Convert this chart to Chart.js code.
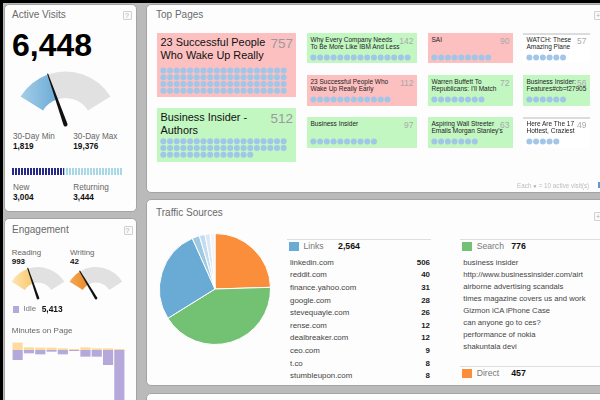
<!DOCTYPE html>
<html>
<head>
<meta charset="utf-8">
<script src="https://cdn.jsdelivr.net/npm/chart.js@4.4.0/dist/chart.umd.min.js"></script>
<style>
html, body { margin: 0; padding: 0; }
body { width: 600px; height: 400px; overflow: hidden; position: relative; background: #bababa; font-family: Arial, "Liberation Sans", sans-serif; }
.panel { position: absolute; background: #fdfdfd; border: 1px solid #a4a4a4; border-radius: 5px; box-sizing: border-box; }
.t { position: absolute; white-space: nowrap; line-height: 1; }
.box { position: absolute; box-sizing: border-box; }
canvas { position: absolute; }
</style>
</head>
<body>
<script>
// ---- data ----
var activeVisits = [6448];
var dayRange = [1819, 19376];          // 30-day min, 30-day max
var newVisits = [3004];
var returningVisits = [3444];

var engageNames = ['Reading', 'Writing'];
var engageCounts = [993, 42];
var engageMax = [2950, 180];
var idleCount = [5413];

var minuteLabels = ['0', '1', '2', '3', '4', '5', '6', '7', '8', '9'];
var readingMinutes = [22, 8, 7, 7, 5, 3, 8, 5, 5, 3];
var idleMinutes = [-30, -10, -13, -5, -13, -3, -20, -20, -45, -240];

var pageTitles = [
  '23 Successful People\nWho Wake Up Really',
  'Business Insider -\nAuthors',
  'Why Every Company Needs\nTo Be More Like IBM And Less',
  '23 Successful People Who\nWake Up Really Early',
  'Business Insider',
  'SAI',
  'Warren Buffett To\nRepublicans: I\'ll Match',
  'Aspiring Wall Streeter\nEmails Morgan Stanley\'s',
  'WATCH: These\nAmazing Plane',
  'Business Insider:\nFeatures#cb=f27905',
  'Here Are The 17\nHottest, Craziest'
];
var pageVisits = [757, 512, 142, 112, 97, 90, 72, 63, 57, 56, 49];
var pageTrend = ['down', 'up', 'up', 'down', 'up', 'down', 'up', 'up', 'flat', 'up', 'flat'];
var visitsPerDot = 10;

var sourceNames = ['Links', 'Search', 'Direct'];
var sourceTotals = [2564, 776, 457];
var linkSites = ['linkedin.com', 'reddit.com', 'finance.yahoo.com', 'google.com', 'stevequayle.com',
  'rense.com', 'dealbreaker.com', 'ceo.com', 't.co', 'stumbleupon.com'];
var linkCounts = [506, 40, 31, 28, 26, 12, 12, 9, 8, 8];
var searchTerms = ['business insider', 'http://www.businessinsider.com/airt', 'airborne advertising scandals',
  'times magazine covers us and work', 'Gizmon iCA iPhone Case', 'can anyone go to ces?',
  'performance of nokia', 'shakuntala devi'];

// ---- setup ----
Chart.defaults.animation = false;
Chart.defaults.responsive = false;
Chart.defaults.plugins.legend.display = false;
Chart.defaults.plugins.tooltip.enabled = false;
Chart.defaults.font.family = 'Arial, "Liberation Sans", sans-serif';

function el(cls, x, y, w, h, css) {
  var d = document.createElement('div');
  d.className = cls;
  d.style.left = x + 'px';
  d.style.top = y + 'px';
  if (w != null) d.style.width = w + 'px';
  if (h != null) d.style.height = h + 'px';
  if (css) d.style.cssText += css;
  document.body.appendChild(d);
  return d;
}

function put(x, yc, s, size, color, bold, right) {
  var d = el('t', x, yc - size / 2);
  d.textContent = s;
  d.style.fontSize = size + 'px';
  d.style.color = color || '#222';
  if (bold) d.style.fontWeight = 'bold';
  if (right) d.style.transform = 'translateX(-100%)';
  return d;
}

function canvas(x, y, w, h) {
  var c = document.createElement('canvas');
  c.width = w; c.height = h;
  c.style.left = x + 'px';
  c.style.top = y + 'px';
  document.body.appendChild(c);
  return c;
}

function fmt(n) { return n.toLocaleString('en-US'); }

// frame and panels
el('box', 0, 0, 600, 3, 'background:#000');
el('box', 0, 0, 3, 400, 'background:#000');
el('panel', 4, 4, 133, 208);
el('panel', 146, 4, 470, 189);
el('panel', 4, 218, 133, 200);
el('panel', 146, 199, 470, 187);
el('panel', 146, 393, 470, 40);

function helpBox(x, y, s) {
  el('box', x, y, 9, 9, 'border:1px solid #d0d0d0;border-radius:1px;background:#fafafa');
  put(x + 2, y + 4.8, s, 7, '#b0b0b0');
}

// ---- Active Visits ----
put(12, 14.7, 'Active Visits', 10, '#6a6a6a');
helpBox(123, 11, '?');
put(12, 45, fmt(activeVisits[0]), 32, '#000', true);

var needle = {
  id: 'needle',
  afterDatasetsDraw: function(chart) {
    var arc = chart.getDatasetMeta(0).data[0];
    var ctx = chart.ctx;
    var len = arc.outerRadius + 1;
    var w = Math.max(1.3, arc.outerRadius / 26);
    ctx.save();
    ctx.translate(arc.x, arc.y);
    ctx.rotate(arc.endAngle);
    ctx.beginPath();
    ctx.moveTo(0, -w);
    ctx.lineTo(len, -0.5);
    ctx.lineTo(len, 0.5);
    ctx.lineTo(0, w);
    ctx.arc(0, 0, w, Math.PI / 2, Math.PI * 1.5);
    ctx.fillStyle = '#111';
    ctx.fill();
    ctx.restore();
  }
};

function gaugeFill(c1, c2) {
  return function(ctx) {
    if (ctx.dataIndex == 1) return '#e1e1e1';
    var a = ctx.chart.chartArea;
    if (!a) return c2;
    var g = ctx.chart.ctx.createLinearGradient(a.left, 0, (a.left + a.right) / 2, 0);
    g.addColorStop(0, c1);
    g.addColorStop(1, c2);
    return g;
  };
}

function gauge(cx, cy, r, value, max, c1, c2) {
  var w = Math.round(r * 2.2), h = Math.round(r * 1.5);
  // centre of a 116deg arc sits below the canvas middle by 0.6325*r
  var cv = canvas(cx - w / 2, cy - h / 2 - 0.6325 * r, w, h);
  new Chart(cv, {
    type: 'doughnut',
    data: { datasets: [{ data: [value, max - value], backgroundColor: gaugeFill(c1, c2), borderWidth: 0 }] },
    options: { rotation: -58, circumference: 116, cutout: '50%', radius: r },
    plugins: [needle]
  });
}

gauge(65, 125, 53, activeVisits[0], dayRange[1], '#b9dbee', '#5fa2d2');

put(13, 136.7, '30-Day Min', 8.2, '#666');
put(13, 146.7, fmt(dayRange[0]), 8.2, '#111', true);
put(73.3, 136.7, '30-Day Max', 8.2, '#666');
put(73.3, 146.7, fmt(dayRange[1]), 8.2, '#111', true);

function stripes(color) {
  var p = document.createElement('canvas');
  p.width = 3; p.height = 8;
  var c = p.getContext('2d');
  c.fillStyle = color;
  c.fillRect(0, 0, 2, 8);
  return c.createPattern(p, 'repeat');
}

new Chart(canvas(12, 168, 111, 7), {
  type: 'bar',
  data: {
    labels: ['visits'],
    datasets: [
      { data: newVisits, backgroundColor: stripes('#262a88') },
      { data: returningVisits, backgroundColor: stripes('#a6d8e6') }
    ]
  },
  options: {
    indexAxis: 'y',
    datasets: { bar: { barPercentage: 1, categoryPercentage: 1 } },
    scales: {
      x: { stacked: true, display: false, min: 0, max: newVisits[0] + returningVisits[0] },
      y: { stacked: true, display: false }
    }
  }
});

put(13, 188.3, 'New', 8.2, '#666');
put(13, 198.3, fmt(newVisits[0]), 8.2, '#111', true);
put(73.3, 188.3, 'Returning', 8.2, '#666');
put(73.3, 198.3, fmt(returningVisits[0]), 8.2, '#111', true);

// ---- Engagement ----
put(12, 230, 'Engagement', 10, '#6a6a6a');
helpBox(123.5, 226, '?');
put(11.7, 252.7, engageNames[0], 7.9, '#666');
put(11.7, 262.3, fmt(engageCounts[0]), 8, '#111', true);
put(70, 252.7, engageNames[1], 7.9, '#666');
put(70, 262.3, fmt(engageCounts[1]), 8, '#111', true);
gauge(37.5, 298, 31, engageCounts[0], engageMax[0], '#fff0cc', '#f8c15c');
gauge(96, 298, 31, engageCounts[1], engageMax[1], '#f7b25f', '#e77f1b');

el('box', 12.7, 306, 6.5, 6.5, 'background:#b5a9dc');
put(23.3, 309.3, 'Idle', 8, '#777');
put(41.7, 309.3, fmt(idleCount[0]), 8.4, '#111', true);
put(11.7, 330.7, 'Minutes on Page', 8.1, '#666');

new Chart(canvas(11.5, 338, 113, 70), {
  type: 'bar',
  data: {
    labels: minuteLabels,
    datasets: [
      { data: readingMinutes, backgroundColor: '#fddb9c' },
      { data: idleMinutes, backgroundColor: '#b5a9dc' }
    ]
  },
  options: {
    datasets: { bar: { barPercentage: 0.9, categoryPercentage: 1 } },
    scales: {
      x: { stacked: true, display: false },
      y: { stacked: true, display: false, min: -174, max: 36 }
    }
  }
});

// ---- Top Pages ----
put(156, 15, 'Top Pages', 10, '#6a6a6a');
helpBox(594, 11, '+');

var tileBoxes = [
  { x: 157, y: 33, w: 139, h: 64, big: true, dy: 37 },
  { x: 157, y: 108, w: 139, h: 54, big: true, dy: 33.7 },
  { x: 307, y: 33, w: 110, h: 30 },
  { x: 307, y: 75, w: 110, h: 31 },
  { x: 307, y: 117, w: 110, h: 31 },
  { x: 428, y: 33, w: 85, h: 30 },
  { x: 428, y: 75, w: 85, h: 31 },
  { x: 428, y: 117, w: 85, h: 31 },
  { x: 523, y: 33, w: 67, h: 30 },
  { x: 523, y: 75, w: 67, h: 31 },
  { x: 523, y: 117, w: 67, h: 31 }
];
var trendColors = { up: '#c2f7c2', down: '#fcc0c0', flat: '#ffffff' };

function dots(x, y, count, cols) {
  var n = Math.ceil(count / visitsPerDot);
  var rows = Math.ceil(n / cols);
  var pts = [];
  for (var i = 0; i < n; i++) pts.push({ x: i % cols, y: Math.floor(i / cols) });
  var step = 6.7;
  new Chart(canvas(x - step / 2, y - step / 2, Math.round(cols * step), Math.round(rows * step)), {
    type: 'scatter',
    data: { datasets: [{ data: pts, backgroundColor: '#a2c6e8', borderWidth: 0, pointRadius: 3, pointHoverRadius: 3 }] },
    options: {
      layout: { padding: 0, autoPadding: false },
      clip: false,
      scales: {
        x: { display: false, min: -0.5, max: cols - 0.5 },
        y: { display: false, min: -0.5, max: rows - 0.5, reverse: true }
      }
    }
  });
}

tileBoxes.forEach(function(b, i) {
  var css = 'background:' + trendColors[pageTrend[i]];
  if (pageTrend[i] == 'flat') css += ';border-top:2px solid #dcdcdc';
  el('box', b.x, b.y, b.w, b.h, css);
  var lines = pageTitles[i].split('\n');
  if (b.big) {
    put(b.x + 3.5, b.y + 9.7, lines[0], 10.9, '#111');
    if (lines[1]) put(b.x + 3.5, b.y + 22.7, lines[1], 10.9, '#111');
    put(b.x + b.w - 3, b.y + 10.3, String(pageVisits[i]), 13.5, '#9a9a9a', false, true);
    dots(b.x + 6.8, b.y + b.dy, pageVisits[i], 19);
  } else {
    put(b.x + 3.5, b.y + 7, lines[0], 6.5, '#222');
    if (lines[1]) put(b.x + 3.5, b.y + 14.5, lines[1], 6.5, '#222');
    put(b.x + b.w - 3.5, b.y + 8, String(pageVisits[i]), 8.5, '#aaa', false, true);
    dots(b.x + 6.8, b.y + 24.5, pageVisits[i], 15);
  }
});

put(517, 185.7, 'Each \u25CF = ' + visitsPerDot + ' active visit(s)', 6.3, '#bdbdbd');
el('box', 598, 182, 1.5, 6, 'background:#5b9bd5');

// ---- Traffic Sources ----
put(156, 213.3, 'Traffic Sources', 10, '#6a6a6a');
helpBox(594, 211.5, '+');

var pieLabels = ['Direct', 'Search'].concat(linkSites.slice(0, 5));
var pieValues = [sourceTotals[2], sourceTotals[1]].concat(linkCounts.slice(0, 5));
new Chart(canvas(155, 229, 120, 120), {
  type: 'pie',
  data: {
    labels: pieLabels,
    datasets: [{
      data: pieValues,
      backgroundColor: ['#fa8e3b', '#73c274', '#6aabd6', '#9ecae1', '#c6dbef', '#dbe9f6', '#f0f6fc'],
      borderColor: '#fff',
      borderWidth: 1
    }]
  },
  options: { radius: 55.5 }
});

var legendColors = ['#6aabd6', '#73c274', '#fa8e3b'];
function legendRow(x, y, x2, i) {
  el('box', x - 2, y - 7.5, x2 - x + 2, 1, 'background:#dedede');
  el('box', x, y - 4.8, 10, 9.5, 'background:' + legendColors[i]);
  put(x + 15, y, sourceNames[i], 8.6, '#777');
  put(x + 49.5, y, fmt(sourceTotals[i]), 8.8, '#111', true);
}

legendRow(288.5, 246.7, 431, 0);
linkSites.forEach(function(s, i) {
  var y = 262.7 + i * 12.6;
  put(290, y, s, 7.9, '#444');
  put(430, y, String(linkCounts[i]), 7.9, '#222', true, true);
});

legendRow(461.7, 246.7, 610, 1);
searchTerms.forEach(function(s, i) {
  put(463.3, 262.7 + i * 12.0, s, 7.7, '#444');
});
legendRow(461.7, 373.3, 610, 2);
</script>
</body>
</html>
